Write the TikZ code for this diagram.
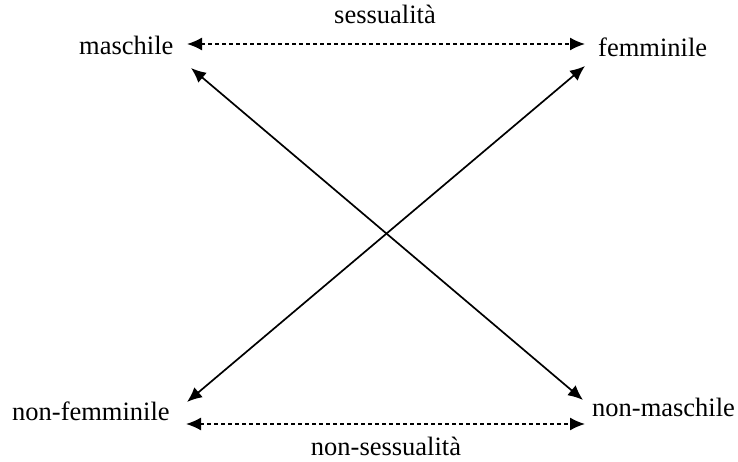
\documentclass[tikz,border=0pt]{standalone}
\usepackage{fontspec}
\setmainfont{Liberation Serif}
\usetikzlibrary{arrows.meta}
\begin{document}
\begin{tikzpicture}[x=1pt,y=1pt,
  lbl/.style={inner sep=0pt,font=\fontsize{26.5}{30}\selectfont},
  tip/.style={Latex[length=15pt,width=13pt]},
  solidarrow/.style={line width=1.7pt,{Latex[length=15pt,width=13pt]}-{Latex[length=15pt,width=13pt]}},
  dotarrow/.style={line width=1.6pt,dash pattern=on 4pt off 3pt,{Latex[length=15pt,width=13pt]}-{Latex[length=15pt,width=13pt]}}]
\useasboundingbox (0,0) rectangle (738,462);
\node[lbl,anchor=base west] (masc) at (79,407) {maschile};
\node[lbl,anchor=base west] (femm) at (598,405) {femminile};
\node[lbl,anchor=base west] (nfemm) at (12,41) {non-femminile};
\node[lbl,anchor=base west] (nmasc) at (592,45) {non-maschile};
\node[lbl,anchor=base] (sess) at (385,438) {sessualità};
\node[lbl,anchor=base] (nsess) at (386,6) {non-sessualità};
\coordinate (mR) at (187,418);
\coordinate (fL) at (585,418);
\coordinate (nfR) at (186,38);
\coordinate (nmL) at (585,38);
\coordinate (mD) at (191,394);
\coordinate (nmU) at (583,62);
\coordinate (fD) at (585,396);
\coordinate (nfU) at (187,60);
\draw[dotarrow] (mR) -- (fL);
\draw[dotarrow] (nfR) -- (nmL);
\draw[solidarrow] (mD) -- (nmU);
\draw[solidarrow] (fD) -- (nfU);
\end{tikzpicture}
\end{document}
